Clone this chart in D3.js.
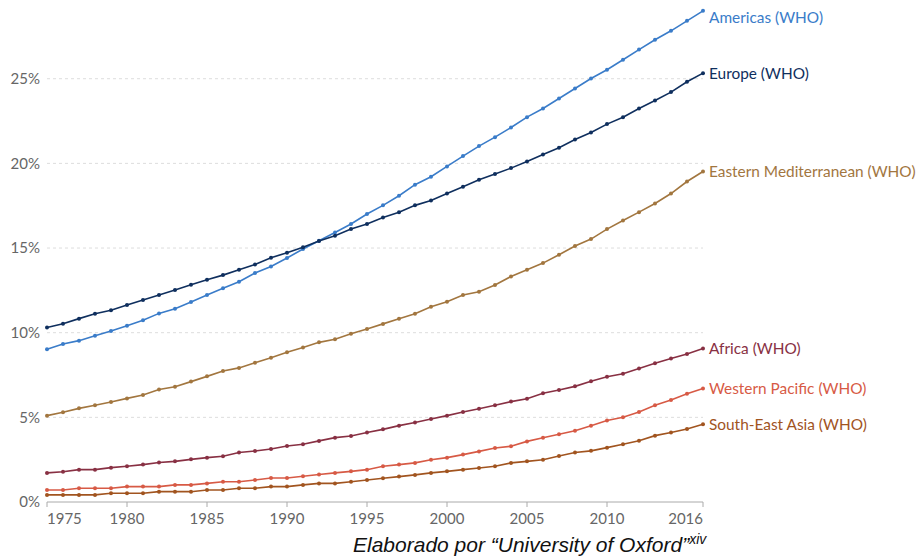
<!DOCTYPE html>
<html>
<head>
<meta charset="utf-8">
<script src="https://cdn.jsdelivr.net/npm/d3@7"></script>
<style>
  body { margin: 0; background: #fff; }
  svg { display: block; font-family: Lato, "Open Sans", sans-serif; }
  .tick-label { fill: #666; font-size: 15px; }
  .grid line { stroke: #ddd; stroke-dasharray: 3,3; }
  .series-label { font-size: 15.4px; }
  .caption { font-family: "Liberation Sans", Arial, sans-serif; font-style: italic; font-size: 21px; fill: #111; }
</style>
</head>
<body>
<div id="chart"></div>
<script>
// years 1975..2016
const years = d3.range(1975, 2017);

const americas = [9.02, 9.33, 9.53, 9.82, 10.10, 10.41, 10.73, 11.14, 11.42, 11.81,
  12.22, 12.62, 13.01, 13.52, 13.91, 14.41, 14.94, 15.43, 15.92, 16.42,
  17.01, 17.52, 18.09, 18.74, 19.21, 19.82, 20.43, 21.02, 21.55, 22.12,
  22.73, 23.24, 23.83, 24.42, 25.01, 25.53, 26.12, 26.72, 27.30, 27.83,
  28.42, 29.01];
const europe = [10.31, 10.53, 10.83, 11.12, 11.32, 11.63, 11.93, 12.22, 12.52, 12.83,
  13.13, 13.40, 13.72, 14.03, 14.43, 14.72, 15.05, 15.42, 15.73, 16.12,
  16.42, 16.81, 17.12, 17.52, 17.81, 18.22, 18.62, 19.03, 19.37, 19.72,
  20.11, 20.53, 20.92, 21.41, 21.82, 22.32, 22.73, 23.24, 23.71, 24.21,
  24.82, 25.33];
const eastMed = [5.10, 5.30, 5.53, 5.71, 5.91, 6.12, 6.32, 6.64, 6.81, 7.11,
  7.42, 7.74, 7.92, 8.23, 8.52, 8.84, 9.13, 9.43, 9.61, 9.94,
  10.22, 10.52, 10.83, 11.12, 11.53, 11.83, 12.23, 12.42, 12.82, 13.32,
  13.72, 14.11, 14.60, 15.12, 15.53, 16.12, 16.63, 17.12, 17.63, 18.22,
  18.93, 19.52];
const africa = [1.72, 1.79, 1.91, 1.91, 2.03, 2.11, 2.21, 2.33, 2.40, 2.52,
  2.62, 2.70, 2.92, 3.01, 3.13, 3.31, 3.41, 3.61, 3.80, 3.90,
  4.10, 4.29, 4.51, 4.70, 4.90, 5.10, 5.32, 5.51, 5.71, 5.93,
  6.10, 6.42, 6.62, 6.83, 7.13, 7.40, 7.58, 7.89, 8.19, 8.47,
  8.74, 9.06];
const westPacific = [0.71, 0.71, 0.81, 0.81, 0.81, 0.91, 0.91, 0.91, 1.01, 1.01,
  1.10, 1.20, 1.20, 1.30, 1.42, 1.42, 1.52, 1.62, 1.72, 1.81,
  1.91, 2.11, 2.21, 2.31, 2.50, 2.62, 2.80, 2.99, 3.19, 3.29,
  3.58, 3.80, 4.00, 4.21, 4.51, 4.81, 5.00, 5.32, 5.71, 6.03,
  6.40, 6.71];
const seAsia = [0.42, 0.42, 0.42, 0.42, 0.52, 0.52, 0.52, 0.61, 0.61, 0.61,
  0.71, 0.71, 0.81, 0.81, 0.91, 0.91, 1.01, 1.10, 1.10, 1.20,
  1.30, 1.40, 1.50, 1.60, 1.72, 1.81, 1.91, 2.01, 2.11, 2.31,
  2.40, 2.50, 2.72, 2.92, 3.02, 3.21, 3.41, 3.62, 3.92, 4.11,
  4.31, 4.59];

const seriesNames = ["Americas (WHO)", "Europe (WHO)", "Eastern Mediterranean (WHO)",
  "Africa (WHO)", "Western Pacific (WHO)", "South-East Asia (WHO)"];
const seriesValues = [americas, europe, eastMed, africa, westPacific, seAsia];
const seriesColors = ["#3a7cc9", "#0f2f5e", "#a2763f", "#883043", "#d75a45", "#a1541f"];

const yTicks = [0, 5, 10, 15, 20, 25];
const xTicks = [1975, 1980, 1985, 1990, 1995, 2000, 2005, 2010, 2016];

const width = 920, height = 558;

const x = d3.scaleLinear().domain([1975, 2016]).range([47, 703]);
const y = d3.scaleLinear().domain([0, 29]).range([502, 11]);

const svg = d3.select("#chart").append("svg")
  .attr("width", width)
  .attr("height", height);

//Grid lines
const grid = svg.append("g").attr("class", "grid");
grid.selectAll("line")
  .data(yTicks.filter(d => d > 0)).enter()
  .append("line")
    .attr("x1", x(1975))
    .attr("x2", x(2016))
    .attr("y1", d => y(d))
    .attr("y2", d => y(d));

//Y labels
svg.append("g").selectAll("text")
  .data(yTicks).enter()
  .append("text")
    .attr("class", "tick-label")
    .attr("x", 40)
    .attr("y", d => y(d))
    .attr("dy", "0.35em")
    .attr("text-anchor", "end")
    .text(d => d + "%");

//X axis
const xAxis = svg.append("g");
xAxis.append("line")
  .attr("x1", x(1975)).attr("x2", x(2016))
  .attr("y1", y(0)).attr("y2", y(0))
  .attr("stroke", "#aaa");
xAxis.selectAll(".tk")
  .data(xTicks).enter()
  .append("line")
    .attr("class", "tk")
    .attr("x1", d => x(d)).attr("x2", d => x(d))
    .attr("y1", y(0)).attr("y2", y(0) + 5)
    .attr("stroke", "#aaa");
xAxis.selectAll("text")
  .data(xTicks).enter()
  .append("text")
    .attr("class", "tick-label")
    .attr("x", d => x(d))
    .attr("y", y(0) + 17)
    .attr("dy", "0.35em")
    .attr("text-anchor", (d, i) => i == 0 ? "start" : (i == xTicks.length - 1 ? "end" : "middle"))
    .text(d => d);

//Lines
const line = d3.line()
  .x((d, i) => x(years[i]))
  .y(d => y(d));

seriesValues.forEach(function(vals, k) {
  const g = svg.append("g");
  g.append("path")
    .datum(vals)
    .attr("d", line)
    .attr("fill", "none")
    .attr("stroke", seriesColors[k])
    .attr("stroke-width", 1.6);
  g.selectAll("circle")
    .data(vals).enter()
    .append("circle")
      .attr("cx", (d, i) => x(years[i]))
      .attr("cy", d => y(d))
      .attr("r", 2)
      .attr("fill", seriesColors[k]);
  g.append("text")
    .attr("class", "series-label")
    .attr("x", x(2016) + 6)
    .attr("y", Math.max(y(vals[vals.length - 1]), 18))
    .attr("dy", "0.35em")
    .attr("fill", seriesColors[k])
    .text(seriesNames[k]);
});

//Caption
const cap = svg.append("text")
  .attr("class", "caption")
  .attr("x", 353)
  .attr("y", 552);
cap.append("tspan").text("Elaborado por \u201cUniversity of Oxford\u201d");
cap.append("tspan").attr("dy", -8).style("font-size", "14px").text("xiv");
</script>
</body>
</html>
